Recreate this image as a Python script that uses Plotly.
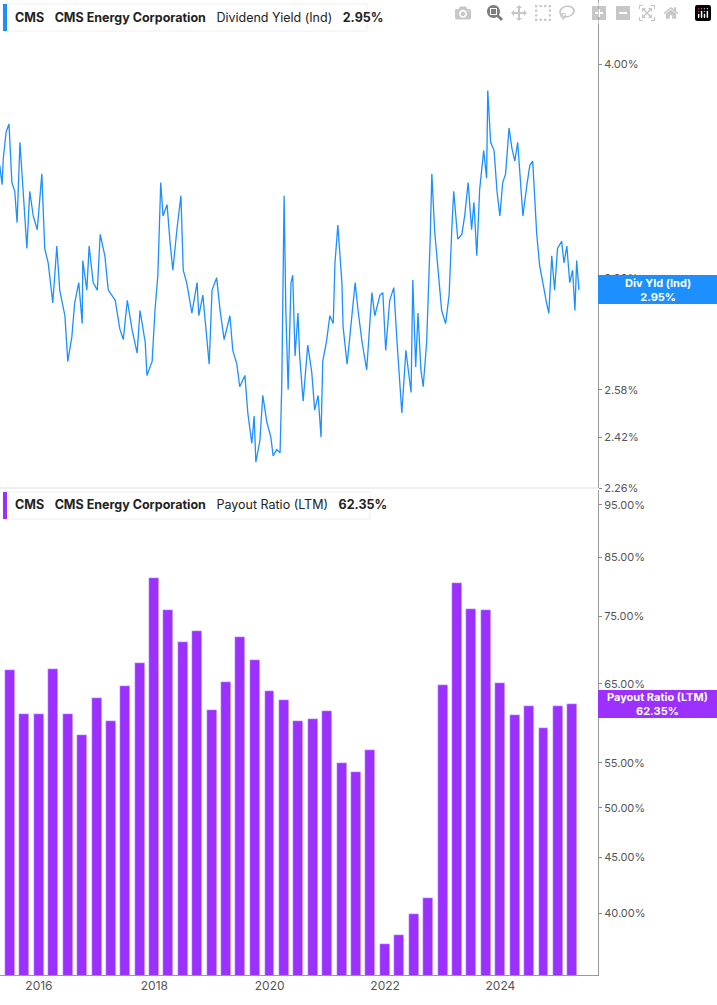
import plotly.graph_objects as go
import pandas as pd
import numpy as np

# Dividend yield (decimal year, %)
yld_years = [2015.32,2015.36,2015.38,2015.43,2015.48,2015.53,2015.58,2015.62,2015.67,2015.72,2015.79,2015.84,2015.90,2015.97,
2016.05,2016.10,2016.16,2016.24,2016.31,2016.36,2016.45,2016.50,2016.57,2016.62,2016.69,2016.75,2016.76,2016.83,2016.87,2016.94,
2017.01,2017.06,2017.14,2017.20,2017.32,2017.40,2017.46,2017.53,2017.61,2017.70,2017.75,2017.84,2017.87,2017.96,
2018.01,2018.06,2018.11,2018.15,2018.22,2018.27,2018.32,2018.39,2018.46,2018.50,2018.56,2018.65,2018.74,2018.77,2018.84,2018.95,
2019.00,2019.08,2019.14,2019.21,2019.31,2019.36,2019.43,2019.48,2019.57,2019.62,2019.69,2019.73,2019.76,2019.83,2019.88,2019.95,
2020.02,2020.06,2020.12,2020.18,2020.21,2020.25,2020.28,2020.32,2020.37,2020.40,2020.44,2020.49,2020.52,2020.58,2020.64,2020.66,2020.73,2020.78,2020.84,2020.89,2020.92,2020.99,
2021.04,2021.10,2021.13,2021.18,2021.25,2021.27,2021.34,2021.39,2021.48,2021.53,2021.60,2021.68,2021.77,2021.82,2021.91,2021.96,
2022.01,2022.08,2022.15,2022.21,2022.29,2022.36,2022.45,2022.48,2022.53,2022.57,2022.62,2022.66,2022.72,2022.78,2022.81,2022.86,2022.92,2022.98,
2023.05,2023.11,2023.16,2023.19,2023.26,2023.33,2023.38,2023.44,2023.50,2023.54,2023.59,2023.64,2023.71,2023.76,2023.78,2023.83,2023.89,2023.94,2023.99,
2024.04,2024.09,2024.15,2024.20,2024.25,2024.30,2024.35,2024.39,2024.46,2024.51,2024.56,2024.63,2024.68,2024.73,2024.80,2024.84,2024.89,2024.94,2024.99,
2025.06,2025.10,2025.15,2025.20,2025.25,2025.29,2025.32,2025.36]
yld_values = [3.49,3.40,3.52,3.65,3.69,3.41,3.37,3.23,3.60,3.38,3.12,3.37,3.26,3.20,
3.45,3.12,3.06,2.90,3.13,2.95,2.85,2.68,2.77,2.90,2.98,2.82,3.07,2.95,3.13,2.98,
2.95,3.18,3.09,2.95,2.91,2.80,2.76,2.91,2.80,2.71,2.87,2.75,2.63,2.68,
2.87,3.01,3.41,3.26,3.31,3.15,3.03,3.20,3.35,3.03,2.98,2.86,2.98,2.85,2.93,2.67,
2.95,3.00,2.87,2.76,2.85,2.72,2.67,2.59,2.63,2.50,2.40,2.49,2.34,2.41,2.56,2.47,
2.42,2.36,2.38,2.37,2.60,3.35,2.87,2.58,2.98,3.01,2.70,2.86,2.70,2.54,2.68,2.74,2.64,2.51,2.56,2.42,2.68,2.76,
2.85,2.82,3.06,3.22,2.98,2.81,2.67,2.77,2.98,2.87,2.75,2.65,2.94,2.85,2.93,2.94,
2.72,2.91,2.96,2.74,2.50,2.72,2.57,2.99,2.66,2.86,2.65,2.59,2.75,3.15,3.45,3.19,3.03,2.87,
2.82,2.93,3.22,3.37,3.16,3.18,3.26,3.41,3.20,3.32,3.09,3.38,3.56,3.43,3.86,3.60,3.56,3.37,3.26,
3.41,3.45,3.67,3.57,3.51,3.60,3.41,3.26,3.40,3.49,3.51,3.18,3.05,2.98,2.90,2.86,3.09,2.95,3.12,
3.15,3.06,3.13,2.98,3.03,2.87,3.07,2.95]

# Payout ratio (LTM), quarterly
pay_quarters = pd.date_range("2015-06-30", "2025-03-31", freq="QE")
pay_values = [67.0,61.0,61.0,67.1,61.0,58.3,63.1,60.1,64.7,68.0,
81.3,76.0,71.1,72.7,61.5,65.3,71.8,68.4,64.1,62.8,
60.1,60.4,61.4,55.0,54.0,56.5,37.5,38.2,39.9,41.3,
64.9,80.5,76.2,76.0,65.1,60.8,62.0,59.2,62.1,62.35]

def yr_to_date(y):
    base = pd.Timestamp(int(y), 1, 1)
    return base + pd.Timedelta(days=(y - int(y)) * 365.25)

yld_dates = [yr_to_date(y) for y in yld_years]

BLUE = "#1e8fff"
PURPLE = "#9b30ff"
FONT = "Inter"

fig = go.Figure()
fig.add_trace(go.Scatter(x=yld_dates, y=yld_values, mode="lines",
                         line=dict(color=BLUE, width=1.3), xaxis="x", yaxis="y", showlegend=False))
fig.add_trace(go.Bar(x=pay_quarters, y=pay_values, marker_color=PURPLE, width=63*86400000,
                     xaxis="x2", yaxis="y2", showlegend=False))

xr = [yr_to_date(2015.324), yr_to_date(2025.69)]
H = 975.0
def py(p):
    return (H - p) / H

fig.update_layout(
    width=717, height=1005, margin=dict(l=0, r=119, t=0, b=30),
    paper_bgcolor="white", plot_bgcolor="white",
    font=dict(family=FONT, size=11, color="#555"),
    bargap=0,
    xaxis=dict(domain=[0, 1], range=xr, anchor="y", showticklabels=False, showgrid=False,
               zeroline=False, type="date"),
    yaxis=dict(domain=[py(488), 1], type="log", side="right",
               range=[np.log10(2.26), np.log10(4.36)],
               tickvals=[4.0, 3.0, 2.58, 2.42, 2.26],
               ticktext=["4.00%", "3.00%", "2.58%", "2.42%", "2.26%"],
               showgrid=False, zeroline=False, ticks="outside", ticklen=3, tickcolor="#888",
               showline=True, linecolor="#999", linewidth=1),
    xaxis2=dict(domain=[0, 1], range=xr, anchor="y2", showgrid=False, zeroline=False, type="date",
                tickvals=[pd.Timestamp(f"{y}-01-01") for y in range(2016, 2026, 2)],
                ticktext=[str(y) for y in range(2016, 2026, 2)],
                tickfont=dict(size=12, color="#555", family=FONT),
                showline=True, linecolor="#999", ticks=""),
    yaxis2=dict(domain=[0, py(490)], type="log", side="right", anchor="x2",
                range=[np.log10(35.1), np.log10(98)],
                tickvals=[95, 85, 75, 65, 55, 50, 45, 40],
                ticktext=["95.00%", "85.00%", "75.00%", "65.00%", "55.00%", "50.00%", "45.00%", "40.00%"],
                showgrid=False, zeroline=False, ticks="outside", ticklen=3, tickcolor="#888",
                showline=True, linecolor="#999", linewidth=1),
)

shapes = [
    dict(type="line", xref="paper", yref="paper", x0=0, x1=1, y0=py(488), y1=py(488),
         line=dict(color="#ddd", width=1)),
    dict(type="rect", xref="paper", yref="paper", x0=3/598, x1=367/598, y0=py(31), y1=py(4),
         line=dict(color="#eee", width=1), fillcolor="white"),
    dict(type="rect", xref="paper", yref="paper", x0=3/598, x1=7/598, y0=py(31), y1=py(4),
         line=dict(width=0), fillcolor=BLUE),
    dict(type="rect", xref="paper", yref="paper", x0=3/598, x1=370/598, y0=py(519), y1=py(492),
         line=dict(color="#eee", width=1), fillcolor="white"),
    dict(type="rect", xref="paper", yref="paper", x0=3/598, x1=7/598, y0=py(519), y1=py(492),
         line=dict(width=0), fillcolor=PURPLE),
    dict(type="rect", xref="paper", yref="paper", x0=1, x1=717/598, y0=py(304), y1=py(275),
         line=dict(width=0), fillcolor=BLUE),
    dict(type="rect", xref="paper", yref="paper", x0=1, x1=717/598, y0=py(718), y1=py(690),
         line=dict(width=0), fillcolor=PURPLE),
]
fig.update_layout(shapes=shapes)

ann = [
    dict(xref="paper", yref="paper", x=13/598, y=py(17), xanchor="left", yanchor="middle", showarrow=False,
         text="<b>CMS</b>   <b>CMS Energy Corporation</b>   Dividend Yield (Ind)   <b>2.95%</b>",
         font=dict(size=12.5, color="#222", family=FONT)),
    dict(xref="paper", yref="paper", x=13/598, y=py(505), xanchor="left", yanchor="middle", showarrow=False,
         text="<b>CMS</b>   <b>CMS Energy Corporation</b>   Payout Ratio (LTM)   <b>62.35%</b>",
         font=dict(size=12.5, color="#222", family=FONT)),
    dict(xref="paper", yref="paper", x=(598+717)/2/598, y=py(289.5), xanchor="center", yanchor="middle",
         showarrow=False, text="<b>Div Yld (Ind)<br>2.95%</b>", font=dict(size=11, color="white", family=FONT)),
    dict(xref="paper", yref="paper", x=(598+717)/2/598, y=py(704), xanchor="center", yanchor="middle",
         showarrow=False, text="<b>Payout Ratio (LTM)<br>62.35%</b>", font=dict(size=11, color="white", family=FONT)),
]
fig.update_layout(annotations=ann)

fig.write_html("out.html",
               post_script="document.body.style.margin='0';document.body.style.overflow='hidden';")
